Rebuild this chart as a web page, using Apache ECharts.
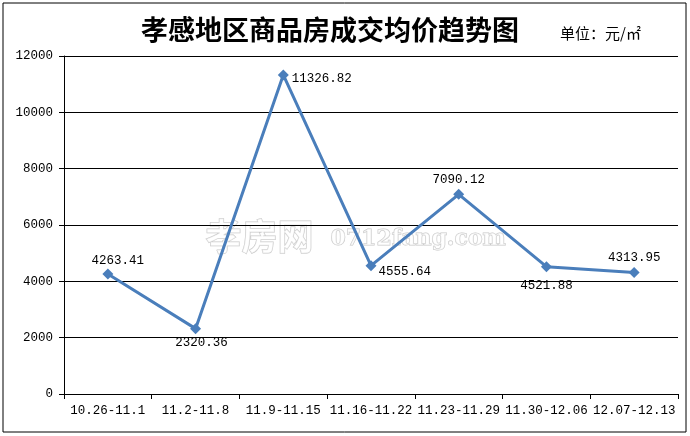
<!DOCTYPE html>
<html><head><meta charset="utf-8">
<script src="https://cdn.jsdelivr.net/npm/echarts@6/dist/echarts.min.js"></script>
<style>html,body{margin:0;padding:0;background:#fff}#c{width:690px;height:436px}</style>
</head><body><div id="c"></div>
<script>
var categories = ['10.26-11.1','11.2-11.8','11.9-11.15','11.16-11.22','11.23-11.29','11.30-12.06','12.07-12.13'];
var prices = [4263.41, 2320.36, 11326.82, 4555.64, 7090.12, 4521.88, 4313.95];
var yTicks = [0, 2000, 4000, 6000, 8000, 10000, 12000];

var labelCfg = [
  {position:'top', offset:[10,4]},
  {position:'bottom', offset:[6,-3]},
  {position:'right', offset:[-2,4]},
  {position:'right', offset:[-3,6]},
  {position:'top', offset:[0,2]},
  {position:'bottom', offset:[0,2]},
  {position:'top', offset:[0,2]}
];
var mono = '"Liberation Mono", "DejaVu Sans Mono", monospace';
var cjk = '"Noto Sans CJK SC", sans-serif';
var chart = echarts.init(document.getElementById('c'));
chart.setOption({
  animation:false,
  backgroundColor:'#fff',
  title:[
    {text:'孝感地区商品房成交均价趋势图', left:325, top:11, textAlign:'center',
     textStyle:{fontFamily:cjk, fontSize:27, fontWeight:'bold', color:'#000'}},
    {text:'单位：元/㎡', left:555, top:21,
     textStyle:{fontFamily:cjk, fontSize:15, fontWeight:'normal', color:'#000'}}
  ],
  graphic:[
    {type:'rect', shape:{x:3,y:3,width:683,height:429}, style:{fill:'none', stroke:'#000', lineWidth:1}, z:-1},
    {type:'text', left:205, top:218, style:{text:'孝房网', font:'bold 36px "Noto Sans CJK SC"', fill:'rgba(255,255,255,0.6)', stroke:'#c8c8c8', lineWidth:1}, z:0},
    {type:'text', left:330, top:228, style:{text:'0712fang.com', font:'bold 22px "DejaVu Serif"', fill:'rgba(255,255,255,0.6)', stroke:'#c8c8c8', lineWidth:1}, z:0}
  ],
  grid:{left:64, right:12, top:56, bottom:42},
  xAxis:{type:'category', data:categories, boundaryGap:true,
    axisLine:{lineStyle:{color:'#000', width:1}},
    axisTick:{show:true, length:5, lineStyle:{color:'#000'}},
    axisLabel:{fontFamily:mono, fontSize:12.5, color:'#000', margin:10, interval:0},
    splitLine:{show:false}},
  yAxis:{type:'value', min:yTicks[0], max:yTicks[yTicks.length-1], interval:2000,
    axisLine:{show:true, lineStyle:{color:'#000'}},
    axisTick:{show:true, length:5, lineStyle:{color:'#000'}},
    axisLabel:{fontFamily:mono, fontSize:12.5, color:'#000', margin:11,
      formatter:function(v){return String(v);}},
    splitLine:{lineStyle:{color:'#000', width:1}}},
  series:[{
    type:'line', data:prices.map(function(v,i){return {value:v, label:labelCfg[i]};}),
    symbol:'diamond', symbolSize:11,
    lineStyle:{color:'#4a7ebb', width:3},
    itemStyle:{color:'#4a7ebb'},
    label:{show:true, fontFamily:mono, fontSize:12.5, color:'#000',
      formatter:function(p){return p.value.toFixed(2);}},
    z:3
  }]
});
</script></body></html>
